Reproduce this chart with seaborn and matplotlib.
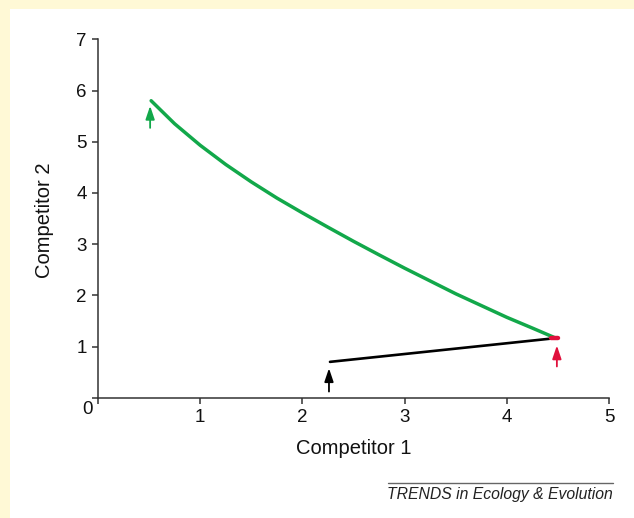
import numpy as np
import pandas as pd
import matplotlib
matplotlib.use("Agg")
import matplotlib.pyplot as plt
from matplotlib.patches import Rectangle
import seaborn as sns

# Trajectoires
green_x = [0.52, 0.75, 1.0, 1.25, 1.5, 1.75, 2.0, 2.25, 2.5, 2.75,
           3.0, 3.25, 3.5, 3.75, 4.0, 4.25, 4.46]
green_y = [5.80, 5.35, 4.93, 4.555, 4.215, 3.90, 3.61, 3.33, 3.055, 2.79,
           2.53, 2.28, 2.03, 1.80, 1.57, 1.36, 1.18]

black_x = [2.27, 4.46]
black_y = [0.70, 1.16]

red_x = [4.43, 4.50]
red_y = [1.17, 1.17]

# fleches : (x, y depart, y pointe)
arrows = [
    (0.51, 5.27, 5.70, "#12a84a"),
    (2.26, 0.12, 0.575, "black"),
    (4.49, 0.61, 1.02, "#e0103c"),
]

x_ticks = [0, 1, 2, 3, 4, 5]
y_ticks = [0, 1, 2, 3, 4, 5, 6, 7]

sns.set_theme(style="ticks")
plt.rcParams["font.family"] = ["Liberation Sans", "DejaVu Sans"]

fig = plt.figure(figsize=(6.34, 5.18), dpi=100)
fig.patch.set_facecolor("#fff9d6")
fig.patches.append(Rectangle((10 / 634, 0), 1, 1 - 9 / 518, transform=fig.transFigure,
                             facecolor="white", edgecolor="none", zorder=-10))

ax = fig.add_axes([98 / 634, 1 - 397.7 / 518, 511 / 634, 358.4 / 518])
ax.set_zorder(1)
ax.set_facecolor("none")

df_g = pd.DataFrame({"x": green_x, "y": green_y})
df_b = pd.DataFrame({"x": black_x, "y": black_y})
df_r = pd.DataFrame({"x": red_x, "y": red_y})

sns.lineplot(data=df_b, x="x", y="y", sort=False, color="black", lw=1.9, ax=ax)
sns.lineplot(data=df_g, x="x", y="y", sort=False, color="#12a84a", lw=2.5, ax=ax)
sns.lineplot(data=df_r, x="x", y="y", sort=False, color="#e0103c", lw=3.2, ax=ax)

for xa, y0, y1, c in arrows:
    ax.annotate("", xy=(xa, y1), xytext=(xa, y0),
                arrowprops=dict(arrowstyle="-|>,head_length=0.8,head_width=0.27",
                                color=c, lw=1.3, shrinkA=0, shrinkB=0,
                                mutation_scale=10))

ax.set_xlim(0, 5)
ax.set_ylim(0, 7)
ax.set_xticks(x_ticks)
ax.set_yticks(y_ticks)
ax.set_xticklabels([""] + [str(t) for t in x_ticks[1:]])
ax.set_yticklabels([""] + [str(t) for t in y_ticks[1:]])
ax.text(-0.02, -0.034, "0", transform=ax.transAxes, ha="center", va="center",
        fontsize=13.5, color="#111111")

ax.tick_params(axis="both", labelsize=13.5, length=4, width=1.1, color="#333333",
               labelcolor="#111111", pad=4)
for s in ["left", "bottom"]:
    ax.spines[s].set_color("#333333")
    ax.spines[s].set_linewidth(1.1)
sns.despine(ax=ax)

ax.set_xlabel("")
ax.set_ylabel("")
fig.text(354 / 634, 1 - 449 / 518, "Competitor 1", ha="center", va="center",
         fontsize=14.5, color="#111111")
fig.text(45 / 634, 1 - 220 / 518, "Competitor 2", ha="center", va="center",
         rotation=90, fontsize=14.5, color="#111111")

# pied de figure
fig.text(613 / 634, 1 - 494 / 518, "TRENDS in Ecology & Evolution", ha="right",
         va="center", fontsize=11.3, style="italic", color="#222222")
fig.add_artist(plt.Line2D([388 / 634, 613 / 634], [1 - 483 / 518, 1 - 483 / 518],
                          transform=fig.transFigure, color="#666666", lw=1))

fig.savefig("out.png", dpi=100, facecolor=fig.get_facecolor())
